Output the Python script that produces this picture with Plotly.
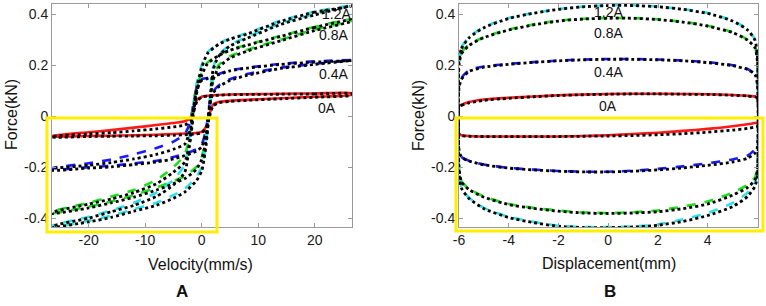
import plotly.graph_objects as go

# ---------------- Panel A: force vs velocity ----------------
V_UP = [26.5, 20, 14, 8, 5, 3, 1, 0, -0.8, -1.4, -2, -3, -5, -8, -12, -16, -20, -26.5]
V_LO = [-26.5, -20, -16, -12, -8, -5, -3, -1, 0, 0.8, 1.4, 2, 3, 5, 8, 14, 20, 26.5]

A_EXP_UP = {
    "0A":   [0.09, 0.089, 0.088, 0.086, 0.085, 0.083, 0.080, 0.076, 0.065, 0.035, -0.005, -0.02, -0.027, -0.035, -0.045, -0.055, -0.063, -0.078],
    "0.4A": [0.22, 0.215, 0.205, 0.19, 0.18, 0.165, 0.15, 0.145, 0.12, 0.06, -0.02, -0.07, -0.10, -0.125, -0.15, -0.17, -0.185, -0.205],
    "0.8A": [0.38, 0.35, 0.315, 0.28, 0.26, 0.24, 0.21, 0.17, 0.12, 0.05, -0.06, -0.15, -0.20, -0.25, -0.29, -0.315, -0.34, -0.375],
    "1.2A": [0.435, 0.41, 0.375, 0.325, 0.305, 0.285, 0.25, 0.20, 0.14, 0.06, -0.05, -0.19, -0.25, -0.30, -0.34, -0.37, -0.395, -0.43],
}
A_EXP_LO = {
    "0A":   [-0.08, -0.078, -0.077, -0.075, -0.073, -0.07, -0.068, -0.066, -0.062, -0.04, 0.01, 0.045, 0.055, 0.06, 0.064, 0.07, 0.076, 0.083],
    "0.4A": [-0.21, -0.20, -0.195, -0.185, -0.175, -0.16, -0.148, -0.13, -0.11, -0.05, 0.05, 0.095, 0.12, 0.145, 0.165, 0.19, 0.205, 0.22],
    "0.8A": [-0.38, -0.355, -0.335, -0.31, -0.28, -0.255, -0.235, -0.20, -0.16, -0.08, 0.05, 0.15, 0.20, 0.235, 0.26, 0.30, 0.34, 0.375],
    "1.2A": [-0.435, -0.41, -0.39, -0.365, -0.34, -0.31, -0.285, -0.24, -0.20, -0.10, 0.05, 0.19, 0.24, 0.28, 0.31, 0.365, 0.40, 0.435],
}
A_MOD_UP = {
    "0A":   [0.088, 0.087, 0.086, 0.085, 0.084, 0.082, 0.079, 0.074, 0.06, 0.02, -0.02, -0.035, -0.042, -0.05, -0.058, -0.065, -0.07, -0.08],
    "0.4A": [0.218, 0.212, 0.203, 0.188, 0.178, 0.163, 0.147, 0.14, 0.11, 0.04, -0.05, -0.11, -0.13, -0.15, -0.168, -0.182, -0.193, -0.207],
    "0.8A": [0.378, 0.348, 0.313, 0.278, 0.258, 0.238, 0.205, 0.16, 0.10, 0.02, -0.09, -0.18, -0.22, -0.265, -0.30, -0.325, -0.345, -0.378],
    "1.2A": [0.432, 0.408, 0.372, 0.322, 0.302, 0.282, 0.245, 0.19, 0.12, 0.03, -0.08, -0.22, -0.27, -0.315, -0.35, -0.375, -0.40, -0.432],
}
A_MOD_LO = {
    "0A":   [-0.082, -0.08, -0.079, -0.078, -0.077, -0.075, -0.073, -0.07, -0.065, -0.045, 0.0, 0.04, 0.052, 0.058, 0.062, 0.068, 0.074, 0.082],
    "0.4A": [-0.212, -0.204, -0.199, -0.19, -0.18, -0.168, -0.155, -0.138, -0.12, -0.06, 0.04, 0.09, 0.115, 0.14, 0.16, 0.187, 0.203, 0.218],
    "0.8A": [-0.382, -0.36, -0.34, -0.318, -0.29, -0.265, -0.245, -0.21, -0.17, -0.09, 0.04, 0.14, 0.19, 0.228, 0.255, 0.296, 0.336, 0.373],
    "1.2A": [-0.436, -0.415, -0.397, -0.373, -0.35, -0.322, -0.298, -0.255, -0.215, -0.11, 0.04, 0.18, 0.235, 0.275, 0.305, 0.36, 0.397, 0.433],
}

# ---------------- Panel B: force vs displacement ----------------
D_UP = [-6, -5.9, -5.6, -5, -4, -3, -2, -1, 0, 1, 2, 3, 4, 5, 5.6, 5.9, 6]
D_LO = [6, 5.9, 5.6, 5, 4, 3, 2, 1, 0, -1, -2, -3, -4, -5, -5.6, -5.9, -6]

B_EXP_UP = {
    "0A":   [0.04, 0.045, 0.055, 0.065, 0.072, 0.077, 0.082, 0.085, 0.087, 0.088, 0.088, 0.087, 0.086, 0.083, 0.08, 0.077, 0.07],
    "0.4A": [0.12, 0.15, 0.18, 0.195, 0.205, 0.212, 0.218, 0.222, 0.224, 0.224, 0.222, 0.218, 0.212, 0.20, 0.185, 0.165, 0.13],
    "0.8A": [0.22, 0.25, 0.28, 0.31, 0.34, 0.36, 0.375, 0.382, 0.385, 0.385, 0.38, 0.37, 0.355, 0.33, 0.30, 0.27, 0.22],
    "1.2A": [0.23, 0.27, 0.31, 0.35, 0.385, 0.405, 0.42, 0.43, 0.435, 0.435, 0.43, 0.42, 0.405, 0.375, 0.34, 0.30, 0.24],
}
B_EXP_LO = {
    "0A":   [-0.025, -0.027, -0.032, -0.04, -0.05, -0.058, -0.065, -0.07, -0.075, -0.078, -0.08, -0.08, -0.08, -0.08, -0.078, -0.075, -0.07],
    "0.4A": [-0.11, -0.13, -0.155, -0.17, -0.185, -0.197, -0.207, -0.214, -0.218, -0.218, -0.215, -0.21, -0.203, -0.19, -0.175, -0.16, -0.13],
    "0.8A": [-0.20, -0.24, -0.27, -0.30, -0.335, -0.355, -0.37, -0.377, -0.38, -0.378, -0.37, -0.36, -0.345, -0.315, -0.285, -0.255, -0.20],
    "1.2A": [-0.22, -0.26, -0.30, -0.34, -0.38, -0.405, -0.425, -0.433, -0.435, -0.435, -0.43, -0.415, -0.395, -0.36, -0.32, -0.28, -0.22],
}
B_MOD_UP = {
    "0A":   [0.035, 0.042, 0.052, 0.062, 0.07, 0.076, 0.081, 0.084, 0.086, 0.087, 0.087, 0.086, 0.085, 0.082, 0.079, 0.076, 0.07],
    "0.4A": [0.11, 0.145, 0.175, 0.192, 0.203, 0.211, 0.217, 0.221, 0.223, 0.223, 0.221, 0.217, 0.21, 0.198, 0.183, 0.163, 0.12],
    "0.8A": [0.20, 0.245, 0.277, 0.308, 0.338, 0.358, 0.373, 0.381, 0.384, 0.384, 0.379, 0.369, 0.353, 0.328, 0.298, 0.268, 0.21],
    "1.2A": [0.22, 0.265, 0.307, 0.347, 0.383, 0.404, 0.419, 0.429, 0.434, 0.434, 0.429, 0.419, 0.403, 0.373, 0.338, 0.298, 0.23],
}
B_MOD_LO = {
    "0A":   [-0.04, -0.043, -0.048, -0.055, -0.063, -0.069, -0.073, -0.076, -0.078, -0.079, -0.08, -0.08, -0.08, -0.08, -0.079, -0.077, -0.07],
    "0.4A": [-0.12, -0.145, -0.165, -0.18, -0.193, -0.203, -0.211, -0.216, -0.219, -0.219, -0.216, -0.211, -0.204, -0.191, -0.176, -0.161, -0.13],
    "0.8A": [-0.21, -0.25, -0.28, -0.31, -0.345, -0.363, -0.375, -0.38, -0.382, -0.38, -0.373, -0.362, -0.347, -0.318, -0.288, -0.258, -0.20],
    "1.2A": [-0.23, -0.275, -0.315, -0.355, -0.39, -0.413, -0.428, -0.435, -0.437, -0.437, -0.432, -0.418, -0.398, -0.363, -0.323, -0.283, -0.22],
}

CURRENTS = ["0A", "0.4A", "0.8A", "1.2A"]
COLORS = {"0A": "#ff1a1a", "0.4A": "#1a1aff", "0.8A": "#19e019", "1.2A": "#2fe0e6"}
DASHES = {"0A": "solid", "0.4A": "dash", "0.8A": "dash", "1.2A": "dash"}

LABEL_A_X = [23.8, 23.3, 23.3, 22.2]
LABEL_A_Y = [0.40, 0.318, 0.165, 0.031]
LABEL_B_X = [0, 0, 0, 0]
LABEL_B_Y = [0.408, 0.326, 0.173, 0.04]
LABEL_TEXT = ["1.2A", "0.8A", "0.4A", "0A"]

Y_TICKS = [-0.4, -0.2, 0, 0.2, 0.4]
Y_TICKTEXT = ["-0.4", "-0.2", "0", "0.2", "0.4"]
XA_TICKS = [-20, -10, 0, 10, 20]
XA_TICKTEXT = ["-20", "-10", "0", "10", "20"]
XB_TICKS = [-6, -4, -2, 0, 2, 4]
XB_TICKTEXT = ["-6", "-4", "-2", "0", "2", "4"]

W, H = 766, 306
def px(x):
    return x / W
def py(y):
    return 1 - y / H

fig = go.Figure()

def add_loop(xu, yu, xl, yl, color, dash, width, xa, ya):
    fig.add_trace(go.Scatter(x=list(xu) + list(xl) + [xu[0]], y=list(yu) + list(yl) + [yu[0]],
                             mode="lines", line=dict(color=color, dash=dash, width=width, shape="spline", smoothing=0.6),
                             xaxis=xa, yaxis=ya, showlegend=False, hoverinfo="skip"))

for c in CURRENTS:
    add_loop(V_UP, A_EXP_UP[c], V_LO, A_EXP_LO[c], COLORS[c], DASHES[c], 2.6, "x", "y")
    add_loop(D_UP, B_EXP_UP[c], D_LO, B_EXP_LO[c], COLORS[c], DASHES[c], 2.6, "x2", "y2")
for c in CURRENTS:
    add_loop(V_UP, A_MOD_UP[c], V_LO, A_MOD_LO[c], "#000000", "dot", 2.8, "x", "y")
    add_loop(D_UP, B_MOD_UP[c], D_LO, B_MOD_LO[c], "#000000", "dot", 2.8, "x2", "y2")

font_family = "Liberation Sans, Arial, sans-serif"
ax_common = dict(showgrid=False, zeroline=False, showline=True, mirror="ticks", linecolor="#9a9a9a",
                 linewidth=1, ticks="inside", ticklen=4, tickcolor="#9a9a9a",
                 tickfont=dict(family=font_family, size=14, color="#1a1a1a"))

fig.update_layout(
    width=W, height=H, margin=dict(l=0, r=0, t=0, b=0, autoexpand=False),
    paper_bgcolor="white", plot_bgcolor="white", showlegend=False,
    xaxis=dict(domain=[px(52), px(352)], range=[-26.5, 26.6], tickvals=XA_TICKS, ticktext=XA_TICKTEXT, anchor="y", **ax_common),
    yaxis=dict(domain=[py(227), py(4)], range=[-0.435, 0.44], tickvals=Y_TICKS, ticktext=Y_TICKTEXT, anchor="x", **ax_common),
    xaxis2=dict(domain=[px(459), px(758)], range=[-6.0, 6.02], tickvals=XB_TICKS, ticktext=XB_TICKTEXT, anchor="y2", **ax_common),
    yaxis2=dict(domain=[py(227), py(4)], range=[-0.435, 0.44], tickvals=Y_TICKS, ticktext=Y_TICKTEXT, anchor="x2", **ax_common),
)

def ann(x, y, text, size, angle=0, xref="paper", yref="paper"):
    return dict(x=x, y=y, xref=xref, yref=yref, text=text, showarrow=False, textangle=angle,
                xanchor="center", yanchor="middle",
                font=dict(family=font_family, size=size, color="#111"))

annotations = []
for t, x, y in zip(LABEL_TEXT, LABEL_A_X, LABEL_A_Y):
    annotations.append(ann(x, y, t, 14, xref="x", yref="y"))
for t, x, y in zip(LABEL_TEXT, LABEL_B_X, LABEL_B_Y):
    annotations.append(ann(x, y, t, 14, xref="x2", yref="y2"))
annotations += [
    ann(px(200), py(264), "Velocity(mm/s)", 16),
    ann(px(609), py(263), "Displacement(mm)", 16),
    ann(px(11), py(115), "Force(kN)", 16, angle=-90),
    ann(px(418), py(115), "Force(kN)", 16, angle=-90),
    ann(px(182), py(291), "<b>A</b>", 17),
    ann(px(610), py(291), "<b>B</b>", 17),
]
fig.update_layout(annotations=annotations)

fig.update_layout(shapes=[
    dict(type="rect", xref="paper", yref="paper", x0=px(47), x1=px(217), y0=py(232), y1=py(118),
         line=dict(color="#ffee00", width=3)),
    dict(type="rect", xref="paper", yref="paper", x0=px(456), x1=px(763), y0=py(231), y1=py(118),
         line=dict(color="#ffee00", width=3)),
])

fig.write_html("out.html", config={"displayModeBar": False, "staticPlot": True},
               post_script="document.body.style.margin='0px';document.body.style.padding='0px';")
